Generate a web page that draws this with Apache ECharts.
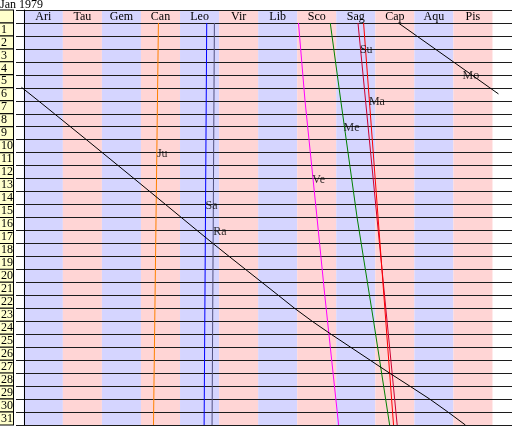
<!DOCTYPE html>
<html>
<head>
<meta charset="utf-8">
<script src="https://cdn.jsdelivr.net/npm/echarts@6/dist/echarts.min.js"></script>
<style>
  html, body { margin: 0; padding: 0; background: #fff; }
  #chart { width: 512px; height: 426px; }
</style>
</head>
<body>
<div id="chart"></div>
<script>
// signs across, days down (sidereal longitudes in degrees, time in days from Jan 1)
const signs = ['Ari', 'Tau', 'Gem', 'Can', 'Leo', 'Vir', 'Lib', 'Sco', 'Sag', 'Cap', 'Aqu', 'Pis'];
const rowLabels = ['1', '2', '3', '4', '5', '6', '7', '8', '9', '10', '11', '12', '13', '14', '15', '16',
  '17', '18', '19', '20', '21', '22', '23', '24', '25', '26', '27', '28', '29', '30', '31'];

const suTime = [0, 31];
const suLon = [256.7, 286.8];
const maTime = [0, 31];
const maLon = [261.0, 284.0];
const meTime = [0, 6, 15, 23, 31];
const meLon = [235.4, 243.5, 256.0, 268.7, 281.0];
const veTime = [0, 6, 15, 21, 31];
const veLon = [211.0, 216.0, 225.2, 231.2, 241.8];
const juTime = [0, 31];
const juLon = [103.4, 99.6];
const saTime = [0, 31];
const saLon = [140.5, 138.5];
const raTime = [0, 31];
const raLon = [146.4, 144.6];
// moon wraps past Pis, so it comes in two pieces
const moATime = [0, 1, 2, 3, 4, 5, 5.47];
const moALon = [287.7, 301.8, 315.9, 330.0, 344.0, 358.0, 364.6];
const moBTime = [4.96, 6, 7, 8, 9, 10, 11, 12, 13, 14, 15, 16, 17, 18, 19, 20, 21, 22, 23, 24, 25, 26, 27, 28, 29, 30, 31];
const moBLon = [-1.8, 11.2, 23.5, 35.8, 48.1, 60.3, 72.5, 84.7, 96.8, 108.9, 121.0, 133.1, 145.3, 157.7, 170.3,
  182.9, 195.5, 208.0, 221.5, 236.0, 251.0, 266.0, 281.0, 296.5, 311.8, 325.8, 339.2];

const blue = '#d5d5ff';
const pink = '#ffd5d5';
const serif = "'Liberation Serif', 'DejaVu Serif', serif";

let chart = echarts.init(document.getElementById('chart'), null, {renderer: 'canvas'});

function pts(lon, time) {
  return lon.map((v, i) => [v, time[i]]);
}
function lonAt(lon, time, t) {
  for (let i = 0; i < time.length - 1; i++) {
    if (t >= time[i] && t <= time[i + 1]) {
      return lon[i] + (lon[i + 1] - lon[i]) * (t - time[i]) / (time[i + 1] - time[i]);
    }
  }
  return lon[lon.length - 1];
}

let planets = [
  {name: 'Su', lon: suLon, time: suTime, color: '#cc0033', row: 2},
  {name: 'Ma', lon: maLon, time: maTime, color: '#ff0000', row: 6},
  {name: 'Me', lon: meLon, time: meTime, color: '#008000', row: 8},
  {name: 'Ve', lon: veLon, time: veTime, color: '#ff00ff', row: 12},
  {name: 'Ju', lon: juLon, time: juTime, color: '#ff8000', row: 10},
  {name: 'Sa', lon: saLon, time: saTime, color: '#0000ff', row: 14},
  {name: 'Ra', lon: raLon, time: raTime, color: '#505080', row: 16},
  {name: 'Mo', lon: moALon, time: moATime, color: '#000000', row: 4},
  {name: 'Mo', lon: moBLon, time: moBTime, color: '#000000', row: null}
];

let series = [];
// sign columns as background
series.push({
  type: 'scatter',
  z: 0,
  silent: true,
  data: [],
  markArea: {
    silent: true,
    z: 0,
    label: {show: true, position: 'insideTop', distance: 1, color: '#000', fontFamily: serif, fontSize: 12},
    data: signs.map((s, i) => [
      {name: s, xAxis: i * 30, yAxis: -1, itemStyle: {color: i % 2 ? pink : blue}},
      {xAxis: (i + 1) * 30, yAxis: 31}
    ])
  }
});

planets.forEach(p => {
  series.push({
    name: p.name,
    type: 'line',
    z: 5,
    silent: true,
    showSymbol: false,
    lineStyle: {color: p.color, width: 1},
    data: pts(p.lon, p.time)
  });
});

// planet names sit on their line
let labelData = planets.filter(p => p.row != null).map(p => ({
  name: p.name,
  value: [lonAt(p.lon, p.time, p.row - 0.5), p.row]
}));
series.push({
  type: 'scatter',
  z: 6,
  silent: true,
  symbolSize: 0,
  data: labelData,
  label: {
    show: true, formatter: '{b}', position: 'right', distance: 0, offset: [0, 1],
    color: '#000', fontFamily: serif, fontSize: 12
  }
});

let option = {
  animation: false,
  title: {
    text: 'Jan 1979', left: 0, top: -1, padding: 0,
    textStyle: {fontFamily: serif, fontSize: 12, fontWeight: 'normal', color: '#000'}
  },
  grid: {left: 16, right: 0, top: 10, bottom: 1, containLabel: false, outerBoundsMode: 'none'},
  xAxis: {type: 'value', min: -6, max: 375, interval: 3, show: false},
  yAxis: [
    {
      type: 'value', inverse: true, min: -1, max: 31, interval: 1, z: 3,
      axisLine: {show: true, lineStyle: {color: '#000'}},
      axisTick: {show: false},
      axisLabel: {show: false},
      splitLine: {show: true, lineStyle: {color: '#1c1c1c', width: 1}}
    },
    {
      type: 'category', inverse: true, position: 'left',
      data: [' '].concat(rowLabels),
      axisLine: {show: false},
      axisTick: {show: false},
      splitLine: {show: false},
      axisLabel: {
        interval: 0, align: 'left', margin: 16,
        width: 12, height: 12, lineHeight: 12, padding: [0, 0, 0, 1],
        backgroundColor: '#ffffcc', borderColor: '#000', borderWidth: 1,
        color: '#000', fontFamily: serif, fontSize: 12
      }
    }
  ],
  series: series
};
chart.setOption(option);
</script>
</body>
</html>
